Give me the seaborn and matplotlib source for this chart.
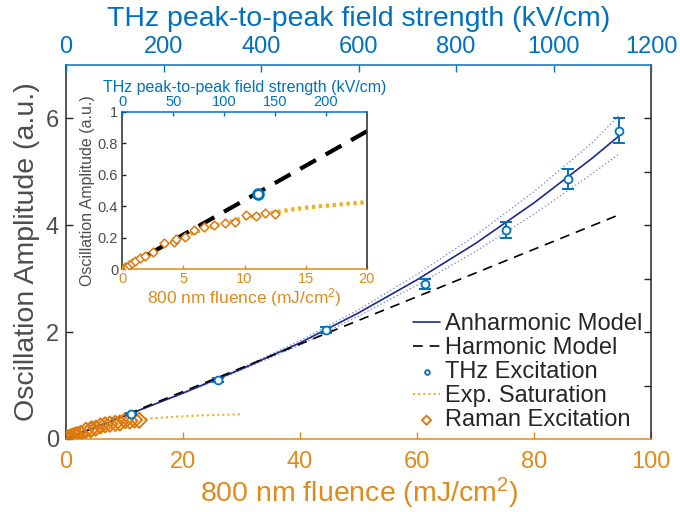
import matplotlib
matplotlib.use('Agg')
import matplotlib.pyplot as plt
import seaborn as sns

# ---------------- data ----------------
thz_fluence = [11.1, 26.0, 44.4, 61.3, 75.2, 85.8, 94.5]
thz_amp = [0.47, 1.10, 2.04, 2.90, 3.91, 4.86, 5.77]
thz_err = [0.02, 0.04, 0.05, 0.085, 0.15, 0.19, 0.23]

anh_fluence = [0, 10, 20, 30, 40, 50, 60, 70, 80, 90, 94.5]
anh_amp = [0, 0.43, 0.86, 1.31, 1.80, 2.36, 2.98, 3.66, 4.42, 5.26, 5.67]
anh_upper = [0, 0.43, 0.87, 1.33, 1.84, 2.42, 3.08, 3.81, 4.63, 5.55, 6.05]
anh_lower = [0, 0.43, 0.85, 1.29, 1.76, 2.30, 2.88, 3.51, 4.21, 4.97, 5.33]

harm_fluence = [0, 94.4]
harm_amp = [0, 4.19]

sat_fluence = [0, 2, 4, 6, 8, 10, 12, 14, 16, 18, 20, 22, 24, 26, 28, 30]
sat_amp = [0, 0.09, 0.17, 0.235, 0.285, 0.325, 0.355, 0.38, 0.398, 0.412,
           0.425, 0.435, 0.443, 0.45, 0.456, 0.462]

raman_fluence = [0.05, 0.22, 0.35, 0.55, 0.76, 1.04, 1.45, 1.86, 2.5, 3.4, 4.2,
                 4.37, 5.1, 5.9, 6.7, 7.5, 8.4, 9.2, 10.1, 10.9, 11.7, 12.5]
raman_amp = [0.0, 0.011, 0.015, 0.025, 0.036, 0.051, 0.068, 0.083, 0.106, 0.163,
             0.174, 0.19, 0.203, 0.246, 0.265, 0.278, 0.292, 0.30, 0.343, 0.337,
             0.356, 0.35]
raman_err = [0.014] * len(raman_fluence)

inset_harm_fluence = [0, 20]
inset_harm_amp = [0, 0.875]
inset_thz_fluence = [11.13]
inset_thz_amp = [0.477]

main_xticks = [0, 20, 40, 60, 80, 100]
main_yticks = [0, 2, 4, 6]
right_yticks = [1, 2, 3, 4, 5, 6]
top_xticks = [0, 200, 400, 600, 800, 1000, 1200]
inset_xticks = [0, 5, 10, 15, 20]
inset_yticks = [0, 0.2, 0.4, 0.6, 0.8, 1.0]
inset_yticklabels = ['0', '0.2', '0.4', '0.6', '0.8', '1']
inset_top_xticks = [0, 50, 100, 150, 200]

legend_labels = ['Anharmonic Model', 'Harmonic Model', 'THz Excitation',
                 'Exp. Saturation', 'Raman Excitation']

# ---------------- style ----------------
BLUE = '#0072BD'
ORANGE = '#E08A1A'
RAMAN = '#DA7A10'
SAT = '#EDB120'
NAVY = '#1C2A8E'
BOUND = '#7D86D6'
GRAY = '#4D4D4D'
DARK = '#262626'

sns.set_style('ticks')
plt.rcParams['font.family'] = ['Liberation Sans', 'DejaVu Sans']
plt.rcParams['mathtext.fontset'] = 'custom'
plt.rcParams['mathtext.rm'] = 'Liberation Sans'
plt.rcParams['mathtext.it'] = 'Liberation Sans:italic'
plt.rcParams['mathtext.default'] = 'regular'
plt.rcParams['lines.scale_dashes'] = False

fig = plt.figure(figsize=(6.8, 5.12), dpi=100)
ax = fig.add_axes([0.0971, 0.1426, 0.8603, 0.7305])

# confidence bounds
sns.lineplot(x=anh_fluence, y=anh_upper, ax=ax, color=BOUND, lw=0.9)
ax.lines[-1].set_linestyle(':')
sns.lineplot(x=anh_fluence, y=anh_lower, ax=ax, color=BOUND, lw=0.9)
ax.lines[-1].set_linestyle(':')
# anharmonic model
sns.lineplot(x=anh_fluence, y=anh_amp, ax=ax, color=NAVY, lw=1.2)
h_anh = ax.lines[-1]
# harmonic model
sns.lineplot(x=harm_fluence, y=harm_amp, ax=ax, color='black', lw=1.2)
h_harm = ax.lines[-1]
h_harm.set_dashes((7, 5))
# exp saturation
sns.lineplot(x=sat_fluence, y=sat_amp, ax=ax, color=SAT, lw=1.5)
h_sat = ax.lines[-1]
h_sat.set_dashes((1.5, 2.2))
# Raman
h_ram = sns.scatterplot(x=raman_fluence, y=raman_amp, ax=ax, marker='D', s=60,
                        color='none', edgecolor=RAMAN, linewidth=1.4,
                        zorder=4).collections[-1]
# THz with error bars
ax.errorbar(thz_fluence, thz_amp, yerr=thz_err, fmt='none', ecolor=BLUE,
            elinewidth=1.4, capsize=4, capthick=1.4, zorder=5)
sns.scatterplot(x=thz_fluence, y=thz_amp, ax=ax, marker='o', s=32,
                color='white', edgecolor=BLUE, linewidth=1.3, zorder=6)
h_thz = ax.collections[-1]

ax.set_xlim(0, 100)
ax.set_ylim(0, 7)
ax.set_xticks(main_xticks)
ax.set_yticks(main_yticks)
ax.tick_params(axis='x', direction='in', length=5, width=1, color=ORANGE,
               labelcolor=ORANGE, labelsize=17, pad=9)
ax.tick_params(axis='y', direction='in', length=5, width=1, color=DARK,
               labelcolor=GRAY, labelsize=17, pad=5)
ax.set_xlabel('800 nm fluence (mJ/cm$^2$)', color=ORANGE, fontsize=20.5, labelpad=2)
ax.set_ylabel('Oscillation Amplitude (a.u.)', color=GRAY, fontsize=20.5, labelpad=4)
for s, c in [('bottom', ORANGE), ('top', BLUE), ('left', DARK), ('right', DARK)]:
    ax.spines[s].set_color(c)
    ax.spines[s].set_linewidth(1.1)
    ax.spines[s].set_visible(True)

axt = ax.twiny()
axt.set_xlim(0, 1200)
axt.set_xticks(top_xticks)
axt.tick_params(axis='x', direction='in', length=5, width=1, color=BLUE,
                labelcolor=BLUE, labelsize=17, pad=5)
axt.set_xlabel('THz peak-to-peak field strength (kV/cm)', color=BLUE,
               fontsize=20.5, labelpad=7)
for s in axt.spines.values():
    s.set_visible(False)

axr = ax.twinx()
axr.set_ylim(0, 7)
axr.set_yticks(right_yticks)
axr.tick_params(axis='y', direction='in', length=5, width=1, color=DARK,
                labelright=False)
for s in axr.spines.values():
    s.set_visible(False)

leg = ax.legend([h_anh, h_harm, h_thz, h_sat, h_ram], legend_labels,
                loc='upper left', bbox_to_anchor=(0.593, 0.337), frameon=False,
                fontsize=17, handlelength=1.15, handletextpad=0.2,
                labelspacing=0.09, borderpad=0, borderaxespad=0, markerscale=0.6)
for t in leg.get_texts():
    t.set_color(DARK)

# ---------------- inset ----------------
axi = fig.add_axes([0.1799, 0.4746, 0.3594, 0.3072])
axi.set_facecolor('white')
sns.lineplot(x=sat_fluence, y=sat_amp, ax=axi, color=SAT, lw=3.0)
axi.lines[-1].set_dashes((2.4, 2.6))
sns.lineplot(x=inset_harm_fluence, y=inset_harm_amp, ax=axi, color='black', lw=3.0)
axi.lines[-1].set_dashes((13, 8))
axi.errorbar(raman_fluence, raman_amp, yerr=raman_err, fmt='none', ecolor=RAMAN,
             elinewidth=0.9, capsize=0, zorder=4)
sns.scatterplot(x=raman_fluence, y=raman_amp, ax=axi, marker='D', s=20,
                color='white', edgecolor=RAMAN, linewidth=1.1, zorder=5)
sns.scatterplot(x=inset_thz_fluence, y=inset_thz_amp, ax=axi, marker='o', s=50,
                color='white', edgecolor=BLUE, linewidth=2.0, zorder=6)
axi.set_xlim(0, 20)
axi.set_ylim(0, 1)
axi.set_xticks(inset_xticks)
axi.set_yticks(inset_yticks)
axi.set_yticklabels(inset_yticklabels)
axi.tick_params(axis='x', direction='in', length=3, width=1, color=ORANGE,
                labelcolor=ORANGE, labelsize=10.5, pad=2)
axi.tick_params(axis='y', direction='in', length=3, width=1, color=DARK,
                labelcolor=GRAY, labelsize=10.5, pad=3)
axi.set_xlabel('800 nm fluence (mJ/cm$^2$)', color=ORANGE, fontsize=12.5, labelpad=0)
axi.set_ylabel('Oscillation Amplitude (a.u.)', color=GRAY, fontsize=11.5, labelpad=2)
for s, c in [('bottom', ORANGE), ('top', BLUE), ('left', DARK), ('right', DARK)]:
    axi.spines[s].set_color(c)
    axi.spines[s].set_linewidth(1.1)
    axi.spines[s].set_visible(True)

axit = axi.twiny()
axit.set_xlim(0, 240)
axit.set_xticks(inset_top_xticks)
axit.tick_params(axis='x', direction='in', length=3, width=1, color=BLUE,
                 labelcolor=BLUE, labelsize=10.5, pad=2)
axit.set_xlabel('THz peak-to-peak field strength (kV/cm)', color=BLUE,
                fontsize=11.5, labelpad=2)
for s in axit.spines.values():
    s.set_visible(False)

fig.savefig('out.png', dpi=100)
